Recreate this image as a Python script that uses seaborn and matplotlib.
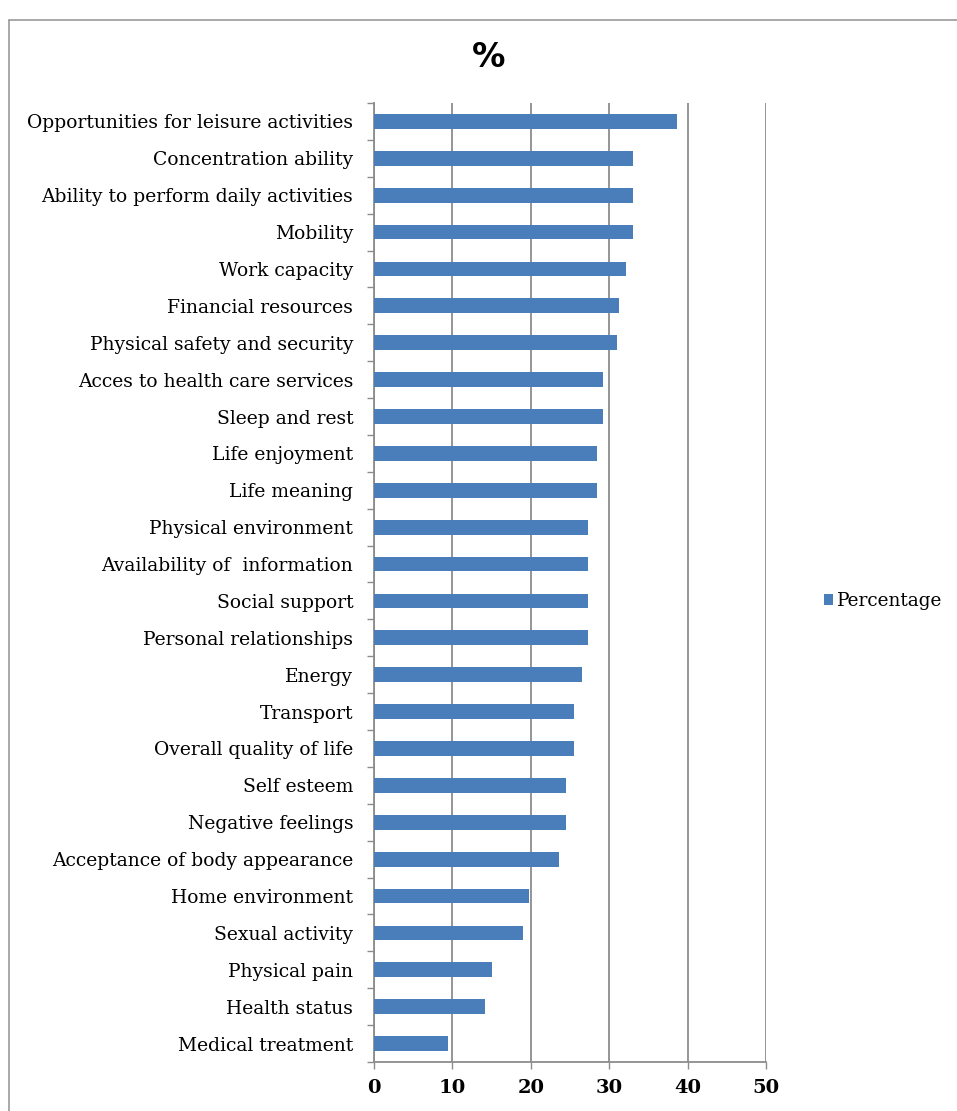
import matplotlib
matplotlib.use("Agg")
import matplotlib.pyplot as plt
from matplotlib.lines import Line2D
import numpy as np
import pandas as pd
import seaborn as sns

CATEGORIES = [
    "Opportunities for leisure activities",
    "Concentration ability",
    "Ability to perform daily activities",
    "Mobility",
    "Work capacity",
    "Financial resources",
    "Physical safety and security",
    "Acces to health care services",
    "Sleep and rest",
    "Life enjoyment",
    "Life meaning",
    "Physical environment",
    "Availability of  information",
    "Social support",
    "Personal relationships",
    "Energy",
    "Transport",
    "Overall quality of life",
    "Self esteem",
    "Negative feelings",
    "Acceptance of body appearance",
    "Home environment",
    "Sexual activity",
    "Physical pain",
    "Health status",
    "Medical treatment",
]
PERCENTAGE = [
    38.6, 33.1, 33.1, 33.1, 32.1, 31.2, 31.0, 29.2, 29.2, 28.4, 28.4, 27.3, 27.3,
    27.3, 27.3, 26.5, 25.5, 25.5, 24.5, 24.5, 23.6, 19.8, 19.0, 15.1, 14.2, 9.5,
]
X_TICKS = [0, 10, 20, 30, 40, 50]

BAR_COLOR = "#4a7ebb"
GRID_COLOR = "#8c8c8c"

sns.set_theme(style="white")
plt.rcParams["font.family"] = ["DejaVu Serif"]
plt.rcParams["text.color"] = "black"
plt.rcParams["xtick.labelcolor"] = "black"
plt.rcParams["ytick.labelcolor"] = "black"

df = pd.DataFrame({"item": CATEGORIES, "pct": PERCENTAGE})

fig = plt.figure(figsize=(9.57, 11.11), dpi=100)
ax = fig.add_axes([0.3908, 0.0441, 0.4096, 0.8632])

sns.barplot(data=df, y="item", x="pct", orient="h", color=BAR_COLOR,
            saturation=1, width=0.4, linewidth=0, label="Percentage", ax=ax, zorder=3)

ax.set_xlim(0, 50)
ax.set_ylim(len(CATEGORIES) - 0.5, -0.5)
ax.set_xticks(X_TICKS)
ax.set_xticklabels([str(t) for t in X_TICKS], fontsize=14, fontweight="bold")
ax.set_yticks(np.arange(len(CATEGORIES)))
ax.set_yticklabels(CATEGORIES, fontsize=13.5)
ax.set_yticks(np.arange(len(CATEGORIES) + 1) - 0.5, minor=True)
ax.tick_params(axis="y", which="major", length=0, pad=15)
ax.tick_params(axis="y", which="minor", length=5, width=1, color=GRID_COLOR, direction="out", left=True)
ax.tick_params(axis="x", which="major", length=5, width=1, color=GRID_COLOR, direction="out", bottom=True, pad=7)
ax.set_xlabel("")
ax.set_ylabel("")

ax.grid(axis="x", color=GRID_COLOR, linewidth=1.3, zorder=0)
ax.set_axisbelow(True)
for side in ["top", "right"]:
    ax.spines[side].set_visible(False)
for side in ["left", "bottom"]:
    ax.spines[side].set_color(GRID_COLOR)
    ax.spines[side].set_linewidth(1.3)

fig.text(0.51, 0.948, "%", ha="center", va="center", fontsize=24,
         fontweight="bold", family="DejaVu Sans")

leg = ax.legend(loc="center left", bbox_to_anchor=(0.851, 0.459),
                bbox_transform=fig.transFigure, frameon=False, fontsize=13.3,
                handlelength=0.5, handleheight=0.5, handletextpad=0.2,
                borderpad=0)

# outer chart frame
fig.add_artist(Line2D([9 / 957, 9 / 957], [0, 1 - 20 / 1111], color="#9a9a9a", lw=1.2,
                      transform=fig.transFigure))
fig.add_artist(Line2D([9 / 957, 1], [1 - 20 / 1111, 1 - 20 / 1111], color="#9a9a9a", lw=1.2,
                      transform=fig.transFigure))

fig.savefig("out.png", dpi=100)
